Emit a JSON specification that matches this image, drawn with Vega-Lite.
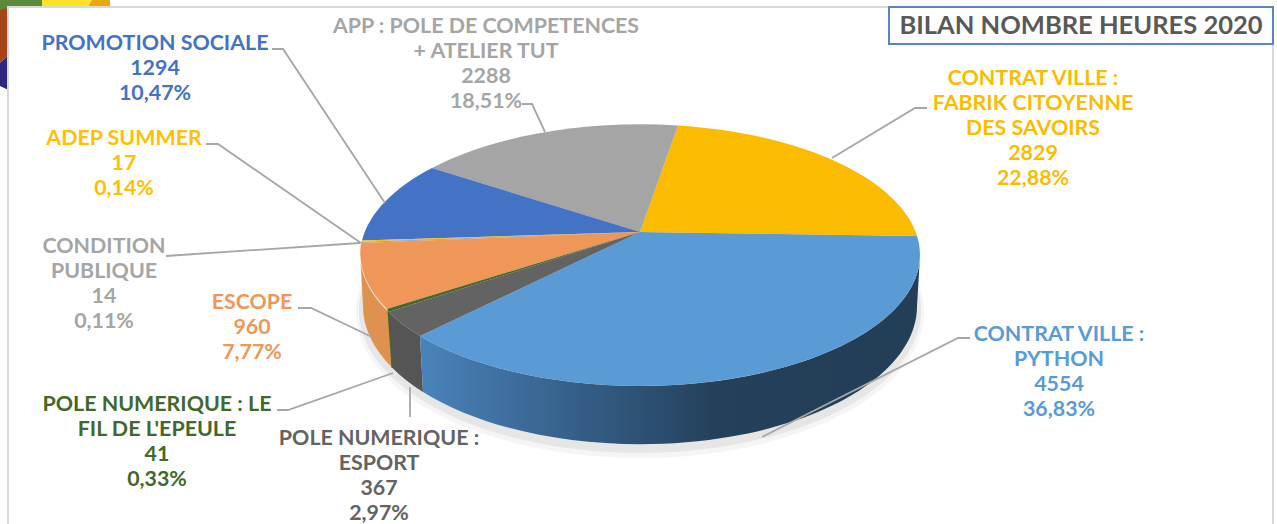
{
"$schema":"https://vega.github.io/schema/vega-lite/v6.json",
"width":1277,"height":524,"padding":0,"autosize":{"type":"none"},
"background":"white",
"config":{"view":{"stroke":null}},
"datasets":{
"slices":[
{"slice":"CONTRAT VILLE : PYTHON","hours":4554,"pct":"36,83%","label":"CONTRAT VILLE :\nPYTHON\n4554\n36,83%"},
{"slice":"CONTRAT VILLE : FABRIK CITOYENNE DES SAVOIRS","hours":2829,"pct":"22,88%","label":"CONTRAT VILLE :\nFABRIK CITOYENNE\nDES SAVOIRS\n2829\n22,88%"},
{"slice":"APP : POLE DE COMPETENCES + ATELIER TUT","hours":2288,"pct":"18,51%","label":"APP : POLE DE COMPETENCES\n+ ATELIER TUT\n2288\n18,51%"},
{"slice":"PROMOTION SOCIALE","hours":1294,"pct":"10,47%","label":"PROMOTION SOCIALE\n1294\n10,47%"},
{"slice":"ADEP SUMMER","hours":17,"pct":"0,14%","label":"ADEP SUMMER\n17\n0,14%"},
{"slice":"CONDITION PUBLIQUE","hours":14,"pct":"0,11%","label":"CONDITION\nPUBLIQUE\n14\n0,11%"},
{"slice":"ESCOPE","hours":960,"pct":"7,77%","label":"ESCOPE\n960\n7,77%"},
{"slice":"POLE NUMERIQUE : LE FIL DE L'EPEULE","hours":41,"pct":"0,33%","label":"POLE NUMERIQUE : LE\nFIL DE L'EPEULE\n41\n0,33%"},
{"slice":"POLE NUMERIQUE : ESPORT","hours":367,"pct":"2,97%","label":"POLE NUMERIQUE :\nESPORT\n367\n2,97%"}
],
"chrome":[{"part":"decor","heading":"BILAN NOMBRE HEURES 2020"}]
},
"data":{"name":"slices"},
"resolve":{"scale":{"shape":"independent"}},
"layer":[
{"data":{"name":"chrome"},"mark":{"type":"point","filled":true,"opacity":1,"size":4,"fill":"#5b8a3c","shape":"M-638.5 -262 H-596.5 V-250 H-638.5 Z"}},
{"data":{"name":"chrome"},"mark":{"type":"point","filled":true,"opacity":1,"size":4,"fill":"#ffe126","shape":"M-596.5 -262 H-546.5 V-250 H-596.5 Z"}},
{"data":{"name":"chrome"},"mark":{"type":"point","filled":true,"opacity":1,"size":4,"fill":"#e8a80e","shape":"M-546.5 -262 H-528.5 V-250 H-553 Z"}},
{"data":{"name":"chrome"},"mark":{"type":"point","filled":true,"opacity":1,"size":4,"fill":"#a8431a","shape":"M-638.5 -252 L-630 -254 V-207 L-638.5 -199 Z"}},
{"data":{"name":"chrome"},"mark":{"type":"point","filled":true,"opacity":1,"size":4,"fill":"#2e2780","shape":"M-638.5 -199 L-630 -207 V-172 L-638.5 -176 Z"}},
{"data":{"name":"chrome"},"mark":{"type":"point","filled":true,"opacity":1,"size":4,"fill":"white","stroke":"#d9d9d9","strokeWidth":2,"shape":"M-630.5 -255 H634.5 V280 H-630.5 Z"}},
{"data":{"name":"chrome"},"mark":{"type":"point","filled":true,"opacity":1,"size":4,"fill":"white","stroke":"#5b84c8","strokeWidth":2,"shape":"M250.5 -255 H634.5 V-218 H250.5 Z"}},
{"data":{"name":"chrome"},"mark":{"type":"text","font":"Lato","fontSize":25.5,"fontWeight":"bold","color":"#595959","align":"center","baseline":"middle","dx":442.5,"dy":-236},"encoding":{"text":{"field":"heading","type":"nominal"}}},
{"data":{"name":"chrome"},"mark":{"type":"point","filled":true,"opacity":0.04,"size":4,"fill":"black","shape":"M-282.5 50 A284 146 0 1 0 285.5 50 A284 146 0 1 0 -282.5 50 Z"}},
{"data":{"name":"chrome"},"mark":{"type":"point","filled":true,"opacity":0.06,"size":4,"fill":"black","shape":"M-279.5 48 A281 143 0 1 0 282.5 48 A281 143 0 1 0 -279.5 48 Z"}},
{"data":{"name":"chrome"},"mark":{"type":"point","filled":true,"opacity":1,"size":4,"fill":"#df9150","shape":"M-278 0 A280 131 0 0 0 -250 50 L-246.5 105.5 A277 138 0 0 1 -275.5 44 Z"}},
{"data":{"name":"chrome"},"mark":{"type":"point","filled":true,"opacity":1,"size":4,"fill":"#555555","shape":"M-250 50 A280 131 0 0 0 -218.5 74 L-215.5 130 A277 138 0 0 1 -246.5 105.5 Z"}},
{"data":{"name":"chrome"},"mark":{"type":"point","filled":true,"opacity":1,"size":4,"fill":{"gradient":"linear","x1":0,"y1":0,"x2":1,"y2":0,"stops":[{"offset":0,"color":"#4a83bb"},{"offset":0.3,"color":"#36608a"},{"offset":0.6,"color":"#24405a"},{"offset":1,"color":"#233e57"}]},"shape":"M-218.5 74 A280 131 0 0 0 281.5 -6 L278.5 44 A277 138 0 0 1 -215.5 130 Z"}},
{"data":{"name":"chrome"},"mark":{"type":"point","filled":true,"opacity":1,"size":4,"fill":"#43682b","shape":"M-251 49 L-249.5 50 L-245.5 106 L-247 106 Z"}},
{"mark":{"type":"point","filled":true,"opacity":1,"size":4},
 "encoding":{
  "color":{"field":"slice","type":"nominal","legend":null,"scale":{"domain":["CONTRAT VILLE : PYTHON","CONTRAT VILLE : FABRIK CITOYENNE DES SAVOIRS","APP : POLE DE COMPETENCES + ATELIER TUT","PROMOTION SOCIALE","ADEP SUMMER","CONDITION PUBLIQUE","ESCOPE","POLE NUMERIQUE : LE FIL DE L'EPEULE","POLE NUMERIQUE : ESPORT"],"range":["#5b9bd5","#fbbc00","#a5a5a5","#4472c4","#ffc000","#a5a5a5","#ef9759","#43682b","#636363"]}},
  "shape":{"field":"slice","type":"nominal","legend":null,"scale":{"domain":["CONTRAT VILLE : PYTHON","CONTRAT VILLE : FABRIK CITOYENNE DES SAVOIRS","APP : POLE DE COMPETENCES + ATELIER TUT","PROMOTION SOCIALE","ADEP SUMMER","CONDITION PUBLIQUE","ESCOPE","POLE NUMERIQUE : LE FIL DE L'EPEULE","POLE NUMERIQUE : ESPORT"],"range":[
   "M1.5 -30 L278.5 -26 A280 131 0 0 1 -218.5 74 Z",
   "M1.5 -30 L39.5 -136.5 A280 131 0 0 1 278.5 -26 Z",
   "M1.5 -30 L-206.5 -94 A280 131 0 0 1 39.5 -136.5 Z",
   "M1.5 -30 L-276.5 -21.5 A280 131 0 0 1 -206.5 -94 Z",
   "M1.5 -30 L-277 -20.3 A280 131 0 0 1 -276.5 -21.5 Z",
   "M1.5 -30 L-277.4 -19 A280 131 0 0 1 -277 -20.3 Z",
   "M1.5 -30 L-251.5 47 A280 131 0 0 1 -277.4 -19 Z",
   "M1.5 -30 L-250 50 A280 131 0 0 1 -251.5 47 Z",
   "M1.5 -30 L-218.5 74 A280 131 0 0 1 -250 50 Z"]}}
 }},
{"mark":{"type":"point","filled":false,"opacity":1,"size":4,"fill":"transparent","stroke":"#a6a6a6","strokeWidth":1.8},
 "encoding":{
  "shape":{"field":"slice","type":"nominal","legend":null,"scale":{"domain":["CONTRAT VILLE : PYTHON","CONTRAT VILLE : FABRIK CITOYENNE DES SAVOIRS","APP : POLE DE COMPETENCES + ATELIER TUT","PROMOTION SOCIALE","ADEP SUMMER","CONDITION PUBLIQUE","ESCOPE","POLE NUMERIQUE : LE FIL DE L'EPEULE","POLE NUMERIQUE : ESPORT"],"range":[
   "M331.5 76 L319.5 76 L123.5 175",
   "M288.5 -154 L276.5 -154 L193.5 -104",
   "M-116.5 -158 L-106.5 -158 L-93.5 -130",
   "M-366.5 -213 L-355.5 -213 L-253.5 -59",
   "M-432.5 -118 L-420.5 -118 L-277.5 -19",
   "M-472.5 -6 L-278.5 -19",
   "M-340.5 46 L-327.5 46 L-266.5 75",
   "M-361.5 148 L-350.5 148 L-245.5 111",
   "M-228.5 155 L-228.5 125"]}}
 }},
{"mark":{"type":"text","font":"Lato","fontSize":21.4,"fontWeight":"bold","lineBreak":"\n","lineHeight":25,"align":"center","baseline":"middle"},
 "encoding":{
  "text":{"field":"label","type":"nominal"},
  "x":{"field":"hours","type":"quantitative","axis":null,"scale":{"type":"linear","zero":false,"nice":false,"domain":[14,17,41,367,960,1294,2288,2829,4554],"range":[104,124,157,379,252,155,486,1033,1059]}},
  "y":{"field":"hours","type":"quantitative","axis":null,"scale":{"type":"linear","zero":false,"nice":false,"domain":[14,17,41,367,960,1294,2288,2829,4554],"range":[246.5,138.5,404.5,438.5,302.5,43.5,26.5,78.5,334.5]}},
  "color":{"field":"slice","type":"nominal","legend":null}
 }}
]
}
